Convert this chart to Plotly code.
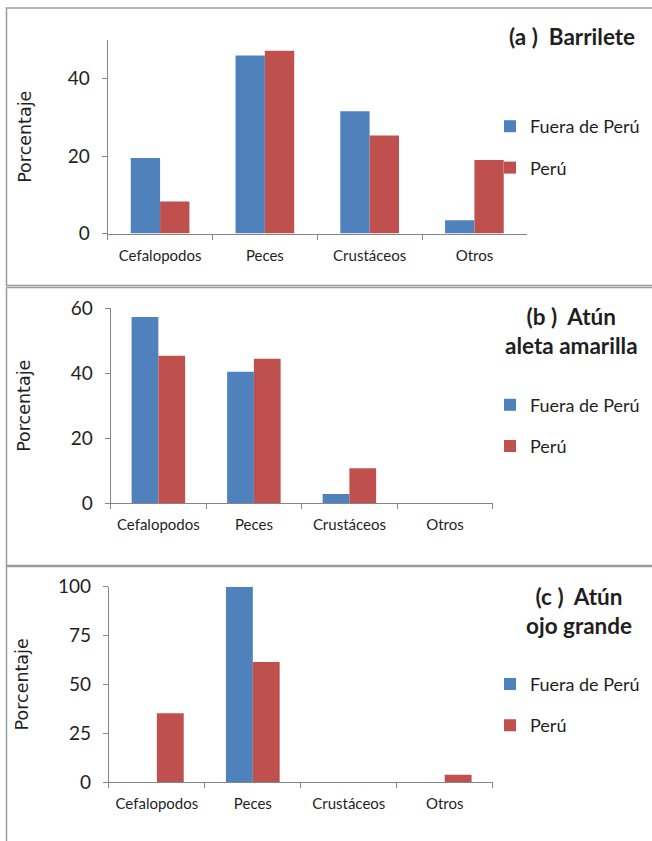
import plotly.graph_objects as go

# ---------------- data ----------------
categories = ["Cefalopodos", "Peces", "Crustáceos", "Otros"]
series_names = ["Fuera de Perú", "Perú"]

barrilete_fuera = [19.5, 46.0, 31.6, 3.4]
barrilete_peru = [8.3, 47.2, 25.3, 19.0]

aleta_fuera = [57.3, 40.5, 2.9, 0.0]
aleta_peru = [45.4, 44.5, 10.8, 0.0]

ojo_fuera = [0.0, 100.0, 0.0, 0.0]
ojo_peru = [35.2, 61.4, 0.0, 3.7]

panel_titles = ["(a )  Barrilete", "(b )  Atún<br>aleta amarilla", "(c )  Atún<br>ojo grande"]
y_ticks = [[0, 20, 40], [0, 20, 40, 60], [0, 25, 50, 75, 100]]
y_ranges = [[0, 50], [0, 60], [0, 100]]

# ---------------- layout helpers ----------------
W, H = 652, 841
def px(x):
    return x / W
def py(y):
    return 1 - y / H

BLUE = "#4F81BD"
RED = "#C0504D"
AXIS = "#868686"
TXT = "#1F1F1F"
FONT = "Lato, Carlito, Open Sans, sans-serif"

# pixel geometry of each panel: (x0, x1, ytop, ybottom)
geom = [
    (107.7, 526.8, 40.0, 233.5),
    (110.6, 492.7, 308.3, 503.3),
    (108.9, 492.7, 586.7, 782.0),
]
legend_mid = [147.0, 425.5, 704.7]
title_pos = [(637.4, 36.5, "right"), (571.5, 330.5, "center"), (579.0, 610.5, "center")]
title_standoff = [31, 35, 24]

data_sets = [
    (barrilete_fuera, barrilete_peru),
    (aleta_fuera, aleta_peru),
    (ojo_fuera, ojo_peru),
]

fig = go.Figure()
for i, (fuera, peru) in enumerate(data_sets):
    sfx = "" if i == 0 else str(i + 1)
    leg = "legend" + sfx
    for name, vals, col in zip(series_names, (fuera, peru), (BLUE, RED)):
        fig.add_trace(go.Bar(
            x=categories, y=vals, name=name,
            marker=dict(color=col, line=dict(width=0)),
            xaxis="x" + sfx, yaxis="y" + sfx,
            legend=leg, legendgroup=f"{name}{i}",
            hoverinfo="x+y+name",
        ))

layout = dict(
    width=W, height=H,
    margin=dict(l=0, r=0, t=0, b=0),
    paper_bgcolor="white", plot_bgcolor="white",
    barmode="group", bargap=0.44, bargroupgap=0,
    font=dict(family=FONT, color=TXT),
    showlegend=True,
)

annotations = []
shapes = []
for i in range(3):
    sfx = "" if i == 0 else str(i + 1)
    x0, x1, yt, yb = geom[i]
    layout["xaxis" + sfx] = dict(
        domain=[px(x0), px(x1)], anchor="y" + sfx,
        type="category", categoryorder="array", categoryarray=categories,
        showline=True, linecolor=AXIS, linewidth=1,
        ticks="outside", tickson="boundaries", ticklen=5, tickcolor=AXIS,
        tickfont=dict(family=FONT, size=15, color=TXT),
        ticklabelstandoff=8,
        showgrid=False, zeroline=False, fixedrange=True,
    )
    layout["yaxis" + sfx] = dict(
        domain=[py(yb), py(yt)], anchor="x" + sfx,
        range=y_ranges[i], tickvals=y_ticks[i],
        showline=True, linecolor=AXIS, linewidth=1,
        ticks="outside", ticklen=5, tickcolor=AXIS,
        tickfont=dict(family=FONT, size=19, color=TXT),
        ticklabelstandoff=8,
        showgrid=False, zeroline=False, fixedrange=True,
        title=dict(text="Porcentaje", standoff=title_standoff[i],
                   font=dict(family="DejaVu Sans, sans-serif", size=17.5, color=TXT)),
        automargin=False,
    )
    layout["legend" + sfx] = dict(
        x=px(490), xanchor="left", y=py(legend_mid[i]), yanchor="middle",
        font=dict(family=FONT, size=18, color=TXT),
        bgcolor="rgba(0,0,0,0)", borderwidth=0,
        tracegroupgap=15, itemclick=False, itemdoubleclick=False,
    )
    tx, ty, anc = title_pos[i]
    annotations.append(dict(
        text=f"<b>{panel_titles[i]}</b>", x=px(tx), y=py(ty),
        xref="paper", yref="paper", xanchor=anc, yanchor="middle",
        align="center", showarrow=False,
        font=dict(family=FONT, size=22.5, color=TXT),
    ))

# panel frames
frames = [(8.0, 285.5), (287.5, 565.5), (566.5, 860.0)]
for (t, b) in frames:
    shapes.append(dict(
        type="rect", xref="paper", yref="paper",
        x0=px(6.5), x1=px(700), y0=py(b), y1=py(t),
        line=dict(color="#9C9C9C", width=1.5), fillcolor="rgba(0,0,0,0)",
        layer="below",
    ))

layout["annotations"] = annotations
layout["shapes"] = shapes
fig.update_layout(**layout)

fig.write_html("out.html")
